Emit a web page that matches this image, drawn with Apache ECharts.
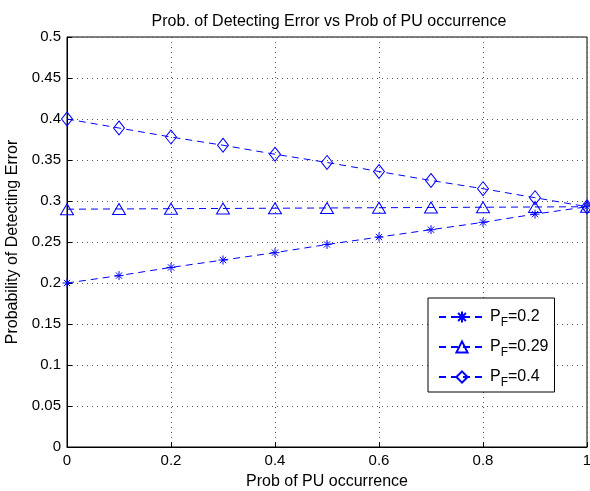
<!DOCTYPE html>
<html><head><meta charset="utf-8">
<script src="https://cdn.jsdelivr.net/npm/echarts@6/dist/echarts.min.js"></script>
<style>html,body{margin:0;padding:0;background:#fff}#c{width:590px;height:491px}</style>
</head><body><div id="c"></div>
<script>
const xValues = [0, 0.1, 0.2, 0.3, 0.4, 0.5, 0.6, 0.7, 0.8, 0.9, 1.0];
const pf02 = [0.200, 0.209, 0.219, 0.228, 0.237, 0.247, 0.256, 0.265, 0.274, 0.284, 0.293];
const pf029 = [0.290, 0.2903, 0.2906, 0.2909, 0.2912, 0.2915, 0.2918, 0.2921, 0.2924, 0.2927, 0.293];
const pf04 = [0.400, 0.389, 0.378, 0.368, 0.357, 0.347, 0.336, 0.325, 0.315, 0.304, 0.293];
const seriesNames = ['P{s|F}=0.2', 'P{s|F}=0.29', 'P{s|F}=0.4'];
const blue = '#0000ff';
const font = 'Liberation Sans, Arial, Helvetica, sans-serif';
const star = 'path://M0,-1L0,1M-1,0L1,0M-0.7,-0.7L0.7,0.7M-0.7,0.7L0.7,-0.7';
function mk(name, data, symbol, size) {
  return {
    name, type: 'line', data: xValues.map((x, i) => [x, data[i]]),
    symbol, symbolSize: size, showAllSymbol: true,
    lineStyle: { color: blue, width: 1, type: [7, 5] },
    itemStyle: { color: 'rgba(0,0,0,0)', borderColor: blue, borderWidth: 1 },
    emphasis: { disabled: true }, animation: false
  };
}
const chart = echarts.init(document.getElementById('c'));
chart.setOption({
  animation: false,
  title: { text: 'Prob. of Detecting Error vs Prob of PU occurrence', left: 324, textAlign: 'center', top: 9,
    textStyle: { fontFamily: font, fontSize: 16, fontWeight: 'normal', color: '#000' } },
  grid: { left: 67, right: 3, top: 37, bottom: 44, show: true, borderColor: '#000', borderWidth: 1, outerBoundsMode: 'none', containLabel: false },
  legend: {
    orient: 'vertical', left: 428, top: 298,
    padding: [11, 6, 3, 10], itemGap: 10, itemWidth: 46, itemHeight: 14,
    backgroundColor: '#fff', borderColor: '#000', borderWidth: 1,
    textStyle: { fontFamily: font, fontSize: 16, color: '#000', rich: { s: { fontSize: 12, verticalAlign: 'bottom', padding: [12, 0, 0, 0], fontFamily: font } } },
    data: seriesNames
  },
  xAxis: {
    type: 'value', min: 0, max: 1, interval: 0.2,
    name: 'Prob of PU occurrence', nameLocation: 'middle', nameGap: 27,
    nameTextStyle: { fontFamily: font, fontSize: 16, color: '#000' },
    axisLine: { show: true, lineStyle: { color: '#000' } },
    axisTick: { inside: true, length: 5, lineStyle: { color: '#000' } },
    axisLabel: { fontFamily: font, fontSize: 15, color: '#000', margin: 6 },
    splitLine: { show: true, lineStyle: { color: '#555', type: [1, 4] } }
  },
  yAxis: {
    type: 'value', min: 0, max: 0.5, interval: 0.05,
    name: 'Probability of Detecting Error', nameLocation: 'middle', nameGap: 44,
    nameTextStyle: { fontFamily: font, fontSize: 16, color: '#000' },
    axisLine: { show: true, lineStyle: { color: '#000' } },
    axisTick: { inside: true, length: 5, lineStyle: { color: '#000' } },
    axisLabel: { fontFamily: font, fontSize: 15, color: '#000', margin: 6, formatter: v => String(+v.toFixed(2)) },
    splitLine: { show: true, lineStyle: { color: '#555', type: [1, 4] } }
  },
  series: [
    mk(seriesNames[0], pf02, star, 9),
    mk(seriesNames[1], pf029, 'triangle', [13, 11]),
    mk(seriesNames[2], pf04, 'diamond', [11, 14])
  ]
});
</script></body></html>
